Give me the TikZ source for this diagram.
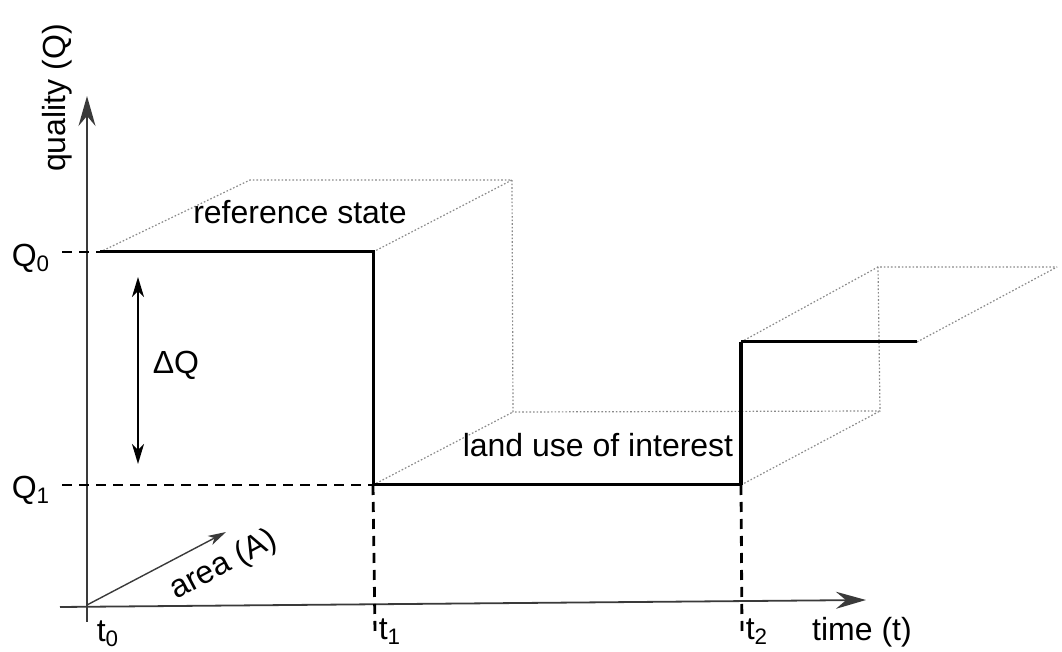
\documentclass[tikz,border=0pt]{standalone}
\usepackage{fontspec}
\setmainfont{Liberation Sans}
\usetikzlibrary{arrows.meta,positioning}
\definecolor{axisCol}{HTML}{3A3A3A}
\definecolor{dotCol}{HTML}{8A8A8A}
\tikzset{
  axis/.style={axisCol, line width=0.9pt, -{Stealth[length=15pt,width=8.5pt,inset=5pt]}},
  stepline/.style={black, line width=1.5pt, line join=miter},
  guide/.style={black, line width=1.4pt, dash pattern=on 5pt off 3.5pt},
  hidden/.style={dotCol, line width=0.6pt, dash pattern=on 0.8pt off 1pt},
  dqarrow/.style={black, line width=0.9pt, {Stealth[length=10pt,width=6pt,inset=3pt]}-{Stealth[length=10pt,width=6pt,inset=3pt]}},
  areaarrow/.style={axisCol, line width=0.7pt, -{Stealth[length=9pt,width=5pt,inset=2.5pt]}},
  lbl/.style={font=\fontsize{16}{19}\selectfont, inner sep=0pt},
}

\begin{document}
\begin{tikzpicture}[x=0.5pt, y=-0.5pt]
  \useasboundingbox (0,0) rectangle (1062,652);

  % Points
  \coordinate (xstart) at (60,607);
  \coordinate (xend) at (866,600);
  \coordinate (ystart) at (87,622);
  \coordinate (yend) at (87,96);
  \coordinate (orig) at (87,605);
  \coordinate (q0dash) at (62,252);
  \coordinate (q0s) at (100,252);
  \coordinate (t1top) at (373,252);
  \coordinate (t1bot) at (373,485);
  \coordinate (q1dash) at (62,485);
  \coordinate (t2bot) at (741,485);
  \coordinate (t2top) at (741,342);
  \coordinate (t2end) at (917,342);
  \coordinate (t1tick) at (375,632);
  \coordinate (t2tick) at (742,632);

  % Back corners (dotted)
  \coordinate (r1) at (250,180);
  \coordinate (r2) at (512,180);
  \coordinate (r3) at (513,412);
  \coordinate (r4) at (880,411);
  \coordinate (r5) at (878,267);
  \coordinate (r6) at (1057,267);

  % Dotted boxes
  \draw[hidden] (q0s) -- (r1) -- (r2) -- (r3) -- (r4) -- (r5) -- (r6);
  \draw[hidden] (t1top) -- (r2);
  \draw[hidden] (t1bot) -- (r3);
  \draw[hidden] (t2bot) -- (r4);
  \draw[hidden] (t2top) -- (r5);
  \draw[hidden] (t2end) -- (r6);

  % Axes
  \draw[axis] (xstart) -- (xend);
  \draw[axis] (ystart) -- (yend);

  % Guides
  \draw[guide] (q0dash) -- (q0s);
  \draw[guide] (q1dash) -- (t1bot);
  \draw[guide] (t1bot) -- (t1tick);
  \draw[guide] (t2bot) -- (t2tick);

  % Quality over time
  \draw[stepline] (q0s) -- (t1top) -- (t1bot) -- (t2bot);
  \draw[stepline, line width=2pt] (t2bot) -- (t2top);
  \draw[stepline] (t2top) -- (t2end);

  % Delta Q and area
  \coordinate (dqtop) at (138,277);
  \coordinate (dqbot) at (138,464);
  \draw[dqarrow] (dqtop) -- (dqbot);
  \coordinate (areatip) at (226,532);
  \draw[areaarrow] (orig) -- (areatip);

  % Labels
  \node[lbl, rotate=90] (qlabel) at (57,98) {quality (Q)};
  \node[lbl] (q0) at (31,258) {Q\textsubscript{0}};
  \node[lbl] (q1) at (31,490) {Q\textsubscript{1}};
  \node[lbl] (dq) at (176,365) {ΔQ};
  \node[lbl, rotate=28] (area) at (224,565) {area (A)};
  \node[lbl] (refstate) at (300,212) {reference state};
  \node[lbl] (landuse) at (598,445) {land use of interest};
  \node[lbl] (t0) at (108,634) {t\textsubscript{0}};
  \node[lbl] (t1) at (390,632) {t\textsubscript{1}};
  \node[lbl] (t2) at (757,632) {t\textsubscript{2}};
  \node[lbl] (time) at (862,632) {time (t)};

\end{tikzpicture}
\end{document}
